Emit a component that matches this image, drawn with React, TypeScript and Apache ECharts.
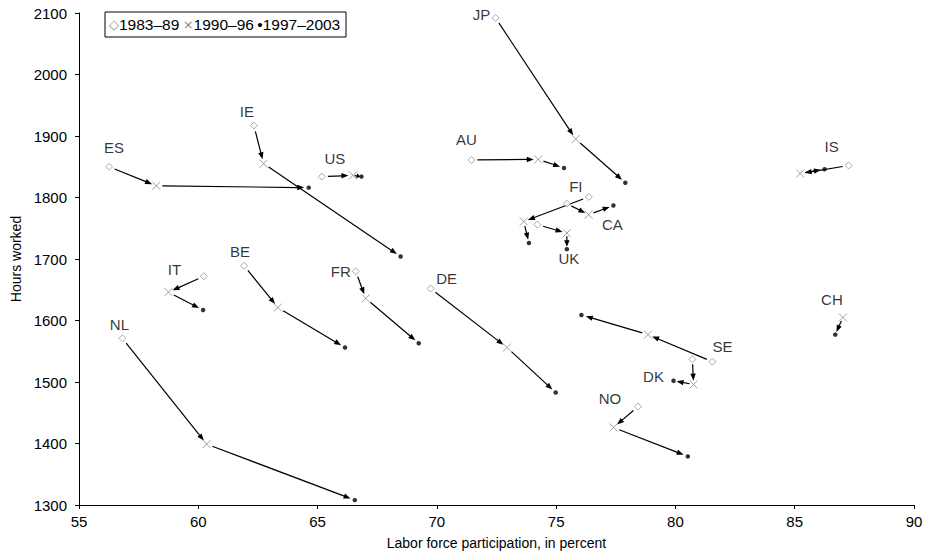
import React, { useEffect, useRef } from "react";
import * as echarts from "echarts";

const countries = ["ES", "IE", "US", "AU", "JP", "FI", "CA", "UK", "IT", "BE", "FR", "DE", "NL", "SE", "DK", "NO", "IS", "CH"];

const lfp1983: (number | null)[] = [56.26, 62.33, 65.18, 71.45, 72.46, 76.37, 75.45, 74.21, 60.23, 61.92, 66.6, 69.74, 56.82, 81.55, 80.71, 78.43, 87.26, null];
const hours1983: (number | null)[] = [1850, 1917, 1834, 1861, 2092, 1801, 1790, 1756, 1672, 1689, 1680, 1652, 1571, 1533, 1537, 1460, 1852, null];

const lfp1990 = [58.24, 62.74, 66.48, 74.25, 75.82, 73.64, 76.36, 75.45, 58.75, 63.34, 67.02, 72.94, 60.35, 78.85, 80.76, 77.41, 85.23, 87.02];
const hours1990 = [1819, 1855, 1836, 1862, 1895, 1761, 1772, 1742, 1646, 1621, 1636, 1556, 1399, 1577, 1496, 1426, 1839, 1605];

const lfp1997 = [64.63, 68.48, 66.84, 75.33, 77.9, 73.86, 77.4, 75.45, 60.2, 66.15, 69.24, 74.98, 66.56, 76.06, 79.92, 80.52, 86.25, 86.7];
const hours1997 = [1816, 1704, 1834, 1848, 1824, 1726, 1787, 1716, 1617, 1556, 1563, 1483, 1308, 1609, 1502, 1379, 1846, 1577];

const periodNames = ["1983–89", "1990–96", "1997–2003"];
const xTicks = { min: 55, max: 90, interval: 5 };
const yTicks = { min: 1300, max: 2100, interval: 100 };

// label placement (anchor period index 0/1/2 and pixel offset)
const labelPlacement: Record<string, { anchor: number; offset: [number, number] }> = {
  ES: { anchor: 0, offset: [5, -19] },
  IE: { anchor: 0, offset: [-7, -14] },
  US: { anchor: 0, offset: [13, -18] },
  AU: { anchor: 0, offset: [-5, -20] },
  JP: { anchor: 0, offset: [-14, -3] },
  FI: { anchor: 0, offset: [-13, -10] },
  CA: { anchor: 2, offset: [-1, 19] },
  UK: { anchor: 2, offset: [2, 9] },
  IT: { anchor: 1, offset: [6, -23] },
  BE: { anchor: 0, offset: [-4, -14] },
  FR: { anchor: 0, offset: [-15, 0] },
  DE: { anchor: 0, offset: [16, -10] },
  NL: { anchor: 0, offset: [-3, -14] },
  SE: { anchor: 0, offset: [10, -15] },
  DK: { anchor: 2, offset: [-20, -4] },
  NO: { anchor: 0, offset: [-28, -8] },
  IS: { anchor: 0, offset: [-17, -19] },
  CH: { anchor: 1, offset: [-11, -18] },
};

const FONT = "'Liberation Sans', Arial, Helvetica, sans-serif";
const GRAY = "#8a8a8a";

export default function App() {
  const ref = useRef<HTMLDivElement>(null);
  useEffect(() => {
    if (!ref.current) return;
    const chart = echarts.init(ref.current, null, { renderer: "svg" });

    const pts1983: any[] = [];
    const pts1990: any[] = [];
    const pts1997: any[] = [];
    const segments: any[] = [];
    const labels: any[] = [];
    countries.forEach((c, i) => {
      if (lfp1983[i] != null && hours1983[i] != null) {
        pts1983.push([lfp1983[i], hours1983[i]]);
        segments.push([lfp1983[i], hours1983[i], lfp1990[i], hours1990[i]]);
      }
      pts1990.push([lfp1990[i], hours1990[i]]);
      pts1997.push([lfp1997[i], hours1997[i]]);
      segments.push([lfp1990[i], hours1990[i], lfp1997[i], hours1997[i]]);
      const lp = labelPlacement[c];
      const src = lp.anchor === 0 ? [lfp1983[i], hours1983[i]] : lp.anchor === 1 ? [lfp1990[i], hours1990[i]] : [lfp1997[i], hours1997[i]];
      labels.push({
        name: c,
        value: src,
        label: { offset: lp.offset },
      });
    });

    const option: any = {
      animation: false,
      textStyle: { fontFamily: FONT, color: "#000" },
      grid: { left: 79, right: 12, top: 13, bottom: 48 },
      xAxis: {
        type: "value",
        min: xTicks.min,
        max: xTicks.max,
        interval: xTicks.interval,
        name: "Labor force participation, in percent",
        nameLocation: "middle",
        nameGap: 31,
        nameTextStyle: { fontSize: 14, color: "#000", fontFamily: FONT },
        axisLine: { show: true, lineStyle: { color: "#000", width: 1 } },
        axisTick: { show: true, length: 4, lineStyle: { color: "#000" } },
        axisLabel: { fontSize: 15, color: "#000", margin: 9, fontFamily: FONT, formatter: (v: number) => String(v) },
        splitLine: { show: false },
      },
      yAxis: {
        type: "value",
        min: yTicks.min,
        max: yTicks.max,
        interval: yTicks.interval,
        name: "Hours worked",
        nameLocation: "middle",
        nameRotate: 90,
        nameGap: 55,
        nameTextStyle: { fontSize: 14, color: "#000", fontFamily: FONT },
        axisLine: { show: true, lineStyle: { color: "#000", width: 1 } },
        axisTick: { show: true, length: 4, lineStyle: { color: "#000" } },
        axisLabel: { fontSize: 15, color: "#000", margin: 12, fontFamily: FONT, formatter: (v: number) => String(v) },
        splitLine: { show: false },
      },
      series: [
        {
          type: "custom",
          name: "arrows",
          silent: true,
          encode: { x: [0, 2], y: [1, 3] },
          data: segments,
          z: 1,
          renderItem: (params: any, api: any) => {
            const a = api.coord([api.value(0), api.value(1)]);
            const b = api.coord([api.value(2), api.value(3)]);
            const dx = b[0] - a[0];
            const dy = b[1] - a[1];
            const L = Math.hypot(dx, dy);
            if (L < 2) return null;
            const ux = dx / L;
            const uy = dy / L;
            const s = Math.min(6, L * 0.2);
            const e = Math.min(4.5, L * 0.15);
            const p1 = [a[0] + ux * s, a[1] + uy * s];
            const tip = [b[0] - ux * e, b[1] - uy * e];
            const ah = Math.min(7, L * 0.4);
            const aw = 2.7;
            const base = [tip[0] - ux * ah, tip[1] - uy * ah];
            const left = [base[0] - uy * aw, base[1] + ux * aw];
            const right = [base[0] + uy * aw, base[1] - ux * aw];
            return {
              type: "group",
              children: [
                {
                  type: "line",
                  shape: { x1: p1[0], y1: p1[1], x2: base[0] + ux * 1, y2: base[1] + uy * 1 },
                  style: { stroke: "#000", lineWidth: 1.2 },
                },
                {
                  type: "polygon",
                  shape: { points: [tip, left, right] },
                  style: { fill: "#000" },
                },
              ],
            };
          },
        },
        {
          type: "scatter",
          name: periodNames[0],
          data: pts1983,
          symbol: "path://M5,0L10,5L5,10L0,5Z",
          symbolSize: 7,
          itemStyle: { color: "#fff", borderColor: GRAY, borderWidth: 0.9 },
          z: 3,
        },
        {
          type: "scatter",
          name: periodNames[1],
          data: pts1990,
          symbol: "path://M0,0L10,10M10,0L0,10",
          symbolSize: 8,
          itemStyle: { color: "none", borderColor: GRAY, borderWidth: 1 },
          z: 3,
        },
        {
          type: "scatter",
          name: periodNames[2],
          data: pts1997,
          symbol: "circle",
          symbolSize: 4.5,
          itemStyle: { color: "#000" },
          z: 4,
        },
        {
          type: "scatter",
          name: "labels",
          data: labels,
          symbolSize: 1,
          silent: true,
          itemStyle: { color: "rgba(0,0,0,0)" },
          label: {
            show: true,
            position: "inside",
            formatter: (p: any) => p.name,
            fontSize: 15,
            color: "#000",
            textBorderWidth: 0,
            fontFamily: FONT,
          },
          z: 5,
        },
      ],
      graphic: [
        {
          type: "rect",
          shape: { x: 105, y: 12, width: 241, height: 25 },
          style: { fill: "#fff", stroke: "#000", lineWidth: 1 },
          z: 10,
        },
        {
          type: "text",
          x: 109,
          y: 24.5,
          z: 11,
          style: {
            text: `{g|◇}{t|${periodNames[0]}} {g|×}{t|${periodNames[1]}} {b|•}{t|${periodNames[2]}}`,
            verticalAlign: "middle",
            fontFamily: FONT,
            rich: {
              g: { fill: GRAY, fontSize: 13, fontFamily: "'DejaVu Sans', sans-serif" },
              b: { fill: "#000", fontSize: 15.5, fontFamily: FONT },
              t: { fill: "#000", fontSize: 15.5, fontFamily: FONT },
            },
          },
        },
      ],
    };
    chart.setOption(option);
    return () => chart.dispose();
  }, []);
  return <div ref={ref} style={{ position: "fixed", left: 0, top: 0, width: 926, height: 555, background: "#fff" }} />;
}
